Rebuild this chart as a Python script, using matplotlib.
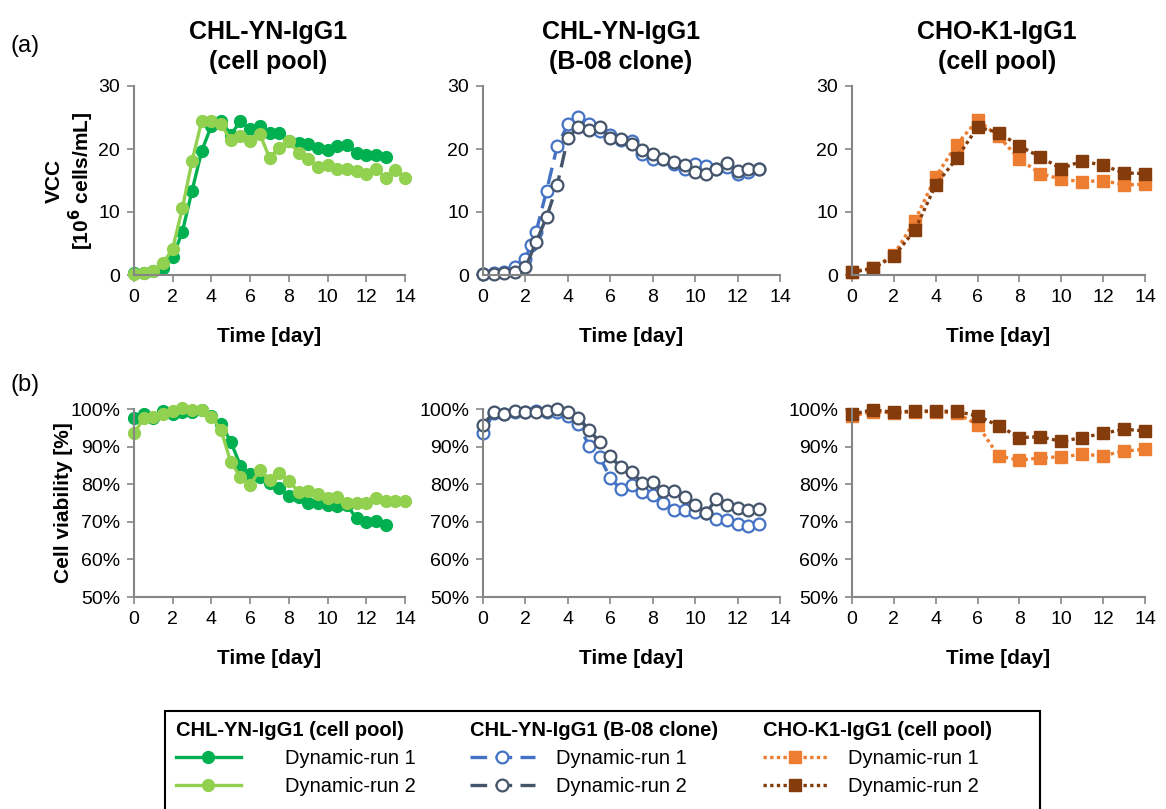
import matplotlib as mpl
mpl.use('Agg')
import matplotlib.pyplot as plt
from matplotlib.patches import Rectangle
from matplotlib.lines import Line2D
from matplotlib.ticker import PercentFormatter

plt.rcParams['font.family'] = ['Liberation Sans', 'DejaVu Sans']

# ---- data ----
t_half13 = [i * 0.5 for i in range(27)]   # 0 .. 13
t_half14 = [i * 0.5 for i in range(29)]   # 0 .. 14
t_day14 = list(range(15))                 # 0 .. 14
t_b08_run1 = [0, 0.5, 1, 1.5, 2, 2.25, 2.5, 3, 3.5, 4, 4.5, 5, 5.5, 6, 6.5, 7, 7.5,
              8, 8.5, 9, 9.5, 10, 10.5, 11, 11.5, 12, 12.5, 13]

# VCC [10^6 cells/mL]
vcc_pool_run1 = [0.26, 0.26, 0.7, 1.1, 2.8, 6.9, 13.4, 19.7, 23.7, 24.5, 22.3, 24.4, 23.1,
                 23.7, 22.5, 22.5, 21.2, 21.0, 20.8, 20.2, 19.9, 20.5, 20.7, 19.3, 19.1,
                 19.1, 18.7]
vcc_pool_run2 = [0.16, 0.26, 0.7, 1.85, 4.2, 10.6, 18.1, 24.5, 24.5, 23.9, 21.4, 22.0, 21.2,
                 22.4, 18.6, 20.2, 21.2, 19.4, 18.4, 17.2, 17.5, 16.9, 16.8, 16.5, 16.1,
                 16.8, 15.4, 16.7, 15.4]
vcc_b08_run1 = [0.16, 0.26, 0.4, 1.2, 2.6, 4.7, 6.8, 13.4, 20.5, 23.9, 25.1, 23.9, 22.9,
                22.3, 21.4, 21.3, 19.2, 18.4, 18.4, 17.6, 16.9, 17.6, 17.3, 16.8, 17.1,
                16.1, 16.4, 16.9]
vcc_b08_run2 = [0.16, 0.16, 0.37, 0.5, 1.2, 5.2, 9.2, 14.3, 21.8, 23.5, 23.0, 23.5, 21.7,
                21.6, 20.8, 19.9, 19.2, 18.4, 18.0, 17.5, 16.4, 16.0, 16.9, 17.7, 16.5,
                16.8, 16.9]
vcc_cho_run1 = [0.53, 1.06, 3.2, 8.6, 15.6, 20.7, 24.6, 22.0, 18.4, 16.1, 15.2, 14.8, 15.0,
                14.3, 14.4]
vcc_cho_run2 = [0.42, 1.06, 3.0, 7.1, 14.3, 18.5, 23.5, 22.6, 20.5, 18.7, 16.9, 18.1, 17.4,
                16.2, 16.1]

# Cell viability [%]
via_pool_run1 = [97.7, 98.8, 97.7, 99.6, 98.8, 99.3, 99.3, 99.7, 98.2, 96.0, 91.3, 84.9, 82.7,
                 82.0, 80.2, 79.1, 76.9, 76.7, 75.1, 74.9, 74.4, 74.2, 74.4, 70.9, 70.0,
                 70.2, 69.1]
via_pool_run2 = [93.5, 97.5, 98.0, 98.6, 99.6, 100.2, 99.7, 99.7, 98.0, 94.4, 85.8, 82.0, 79.9,
                 83.7, 81.1, 82.9, 80.9, 78.0, 78.2, 77.4, 76.2, 76.7, 74.9, 75.1, 74.9,
                 76.4, 75.5, 75.5, 75.5]
via_b08_run1 = [93.6, 98.9, 98.7, 99.1, 99.1, 99.5, 99.2, 99.3, 98.1, 95.9, 90.2, 87.2, 81.7,
                78.6, 79.8, 77.9, 77.0, 75.1, 73.2, 73.1, 72.6, 72.3, 70.8, 70.5, 69.4,
                68.9, 69.3]
via_b08_run2 = [95.8, 99.1, 98.6, 99.6, 99.2, 99.3, 99.5, 100.0, 99.2, 97.5, 94.4, 91.2, 87.4,
                84.5, 83.2, 80.3, 80.7, 78.1, 78.1, 76.7, 74.4, 72.3, 76.0, 74.4, 73.6,
                73.1, 73.5]
via_cho_run1 = [98.1, 99.3, 98.9, 99.3, 99.3, 98.9, 95.8, 87.5, 86.4, 87.0, 87.3, 87.9, 87.6,
                88.8, 89.3]
via_cho_run2 = [98.6, 99.8, 99.1, 99.5, 99.4, 99.4, 98.1, 95.6, 92.4, 92.6, 91.4, 92.4, 93.5,
                94.6, 94.2]

titles = ['CHL-YN-IgG1\n(cell pool)', 'CHL-YN-IgG1\n(B-08 clone)', 'CHO-K1-IgG1\n(cell pool)']
group_names = ['CHL-YN-IgG1 (cell pool)', 'CHL-YN-IgG1 (B-08 clone)', 'CHO-K1-IgG1 (cell pool)']
run_names = ['Dynamic-run 1', 'Dynamic-run 2']

# ---- styles ----
green1, green2 = '#00B050', '#92D050'
blue1, blue2 = '#4472C4', '#44546A'
orange1, brown2 = '#ED7D31', '#843C0C'

pool_style = [dict(color=green1, lw=2.4, marker='o', ms=8.5, mec=green1, mfc=green1),
              dict(color=green2, lw=2.4, marker='o', ms=8.5, mec=green2, mfc=green2)]
b08_style = [dict(color=blue1, lw=2.4, ls=(0, (5, 2.5)), marker='o', ms=8.5, mec=blue1,
                  mfc='white', mew=1.6),
             dict(color=blue2, lw=2.4, ls=(0, (5, 2.5)), marker='o', ms=8.5, mec=blue2,
                  mfc='white', mew=1.6)]
cho_style = [dict(color=orange1, lw=2.4, ls=(0, (1, 1)), marker='s', ms=8.5, mec=orange1,
                  mfc=orange1),
             dict(color=brown2, lw=2.4, ls=(0, (1, 1)), marker='s', ms=8.5, mec=brown2,
                  mfc=brown2)]

W, H = 1166, 809
fig = plt.figure(figsize=(W / 100, H / 100), dpi=100)

cols = [(134, 271), (483, 297), (852, 293)]
rows = [(86, 275), (409, 597)]


def make_ax(col, row):
    x0, w = cols[col]
    top, bot = rows[row]
    return fig.add_axes([x0 / W, 1 - bot / H, w / W, (bot - top) / H])


def style_ax(ax):
    for s in ['top', 'right']:
        ax.spines[s].set_visible(False)
    for s in ['left', 'bottom']:
        ax.spines[s].set_color('#868686')
        ax.spines[s].set_linewidth(1.5)
    ax.tick_params(colors='#868686', width=1.2, length=5, labelsize=14,
                   labelcolor='black', pad=5)
    ax.set_xlim(0, 14)
    ax.set_xticks(range(0, 15, 2))
    ax.set_xlabel('Time [day]', fontsize=15, fontweight='bold', labelpad=15)


panels_top = [
    ([t_half13, t_half14], [vcc_pool_run1, vcc_pool_run2], pool_style),
    ([t_b08_run1, t_half13], [vcc_b08_run1, vcc_b08_run2], b08_style),
    ([t_day14, t_day14], [vcc_cho_run1, vcc_cho_run2], cho_style),
]
panels_bot = [
    ([t_half13, t_half14], [via_pool_run1, via_pool_run2], pool_style),
    ([t_half13, t_half13], [via_b08_run1, via_b08_run2], b08_style),
    ([t_day14, t_day14], [via_cho_run1, via_cho_run2], cho_style),
]

for i in range(3):
    ax = make_ax(i, 0)
    ts, vs, st = panels_top[i]
    for t, v, s in zip(ts, vs, st):
        ax.plot(t, v, clip_on=False, **s)
    style_ax(ax)
    ax.set_ylim(0, 30)
    ax.set_yticks([0, 10, 20, 30])
    if i == 0:
        ax.set_ylabel('VCC\n[10$^{\\mathbf{6}}$ cells/mL]', fontsize=15, fontweight='bold',
                      linespacing=1.15)
        ax.yaxis.set_label_coords(-0.14, 0.5)

    ax = make_ax(i, 1)
    ts, vs, st = panels_bot[i]
    for t, v, s in zip(ts, vs, st):
        ax.plot(t, v, clip_on=False, **s)
    style_ax(ax)
    ax.set_ylim(50, 100)
    ax.set_yticks(range(50, 101, 10))
    ax.yaxis.set_major_formatter(PercentFormatter(decimals=0))
    if i == 0:
        ax.set_ylabel('Cell viability [%]', fontsize=15, fontweight='bold')
        ax.yaxis.set_label_coords(-0.225, 0.5)

# panel titles
title_x = [268, 621, 997]
for x, t in zip(title_x, titles):
    fig.text(x / W, 1 - 47 / H, t, ha='center', va='center', fontsize=18,
             fontweight='bold', linespacing=1.35)

fig.text(10 / W, 1 - 46 / H, '(a)', fontsize=17, va='center')
fig.text(10 / W, 1 - 385 / H, '(b)', fontsize=17, va='center')

# legend box
fig.patches.append(Rectangle((165 / W, -0.05), (1040 - 165) / W, 0.05 + 1 - 711 / H,
                             transform=fig.transFigure, fill=False, ec='black', lw=1.5))

leg_x = [168, 462, 755]
leg_pad = [2.2, 1.05, 1.0]
for x, name, st, pad in zip(leg_x, group_names, [pool_style, b08_style, cho_style], leg_pad):
    handles = [Line2D([], [], **s) for s in st]
    leg = fig.legend(handles, run_names, title=name, loc='upper left',
                     bbox_to_anchor=(x / W, 1 - 713 / H), frameon=False, fontsize=14.5,
                     handlelength=3.2, handletextpad=pad, labelspacing=0.45,
                     borderaxespad=0, alignment='left')
    leg.get_title().set_fontweight('bold')
    leg.get_title().set_fontsize(14.5)

fig.savefig('out.png', dpi=100)
